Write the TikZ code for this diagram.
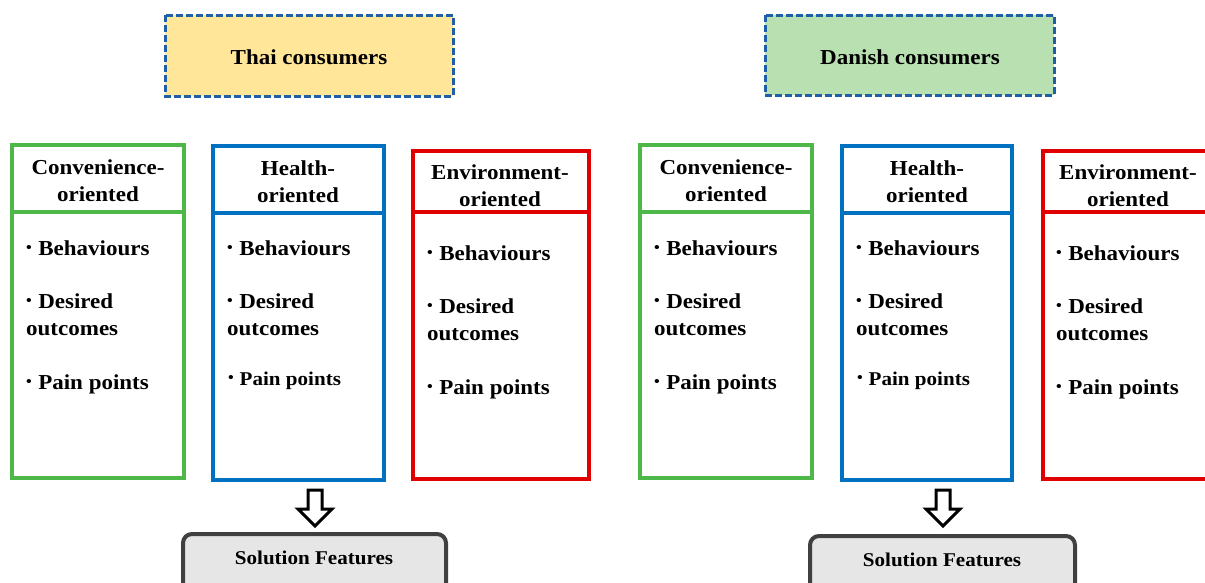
\documentclass[tikz,border=0pt]{standalone}
\usepackage{fontspec}
\setmainfont{Liberation Serif}[FakeStretch=1.08]
\usetikzlibrary{calc}
\definecolor{cgreen}{HTML}{4DB848}
\definecolor{cblue}{HTML}{0070C0}
\definecolor{cred}{HTML}{E00000}
\definecolor{dashblue}{HTML}{1F5FA8}
\definecolor{yfill}{HTML}{FFE699}
\definecolor{gfill}{HTML}{B8E0B0}
\definecolor{sfill}{HTML}{E6E6E6}
\definecolor{sborder}{HTML}{404040}
\newcommand{\bul}{\raisebox{0.12em}{\fontsize{15}{15}\selectfont\textbullet}\hspace{0.3em}}
\tikzset{
  hdr/.style={draw=dashblue, line width=3pt, dash pattern=on 7pt off 3pt},
  frame/.style={line width=3.5pt, fill=white},
  htxt/.style={font=\fontsize{21.3}{27}\selectfont\bfseries, align=center, anchor=center, inner sep=0},
  btxt/.style={font=\fontsize{21.3}{27}\selectfont\bfseries, anchor=base west, inner sep=0},
  stxt/.style={font=\fontsize{19.5}{24}\selectfont\bfseries, anchor=base west, inner sep=0},
  soltxt/.style={font=\fontsize{19.5}{24}\selectfont\bfseries, anchor=center, inner sep=0},
  solbox/.style={draw=sborder, fill=sfill, line width=4pt, rounded corners=9pt},
  blockarrow/.style={draw=black, fill=white, line width=3pt, line join=miter},
}
\begin{document}
\begin{tikzpicture}[x=1pt, y=-1pt]
\useasboundingbox (0,0) rectangle (1205,582);
\clip (0,0) rectangle (1205,582);

% ---------- header boxes ----------
\draw[hdr, fill=yfill] (165,15) rectangle (453,96);
\node[htxt] (thai) at (309,57) {Thai consumers};
\draw[hdr, fill=gfill] (765,15) rectangle (1054,95);
\node[htxt] (danish) at (910,57) {Danish consumers};

% Left group
% Green
\draw[frame, draw=cgreen] (12,212) rectangle (184,478);
\draw[frame, draw=cgreen] (12,145) rectangle (184,212);
\node[htxt] (g1h) at (98,181) {Convenience-\\oriented};
\node[btxt] (g1a) at (26,255) {\bul Behaviours};
\node[btxt] (g1b) at (26,308) {\bul Desired};
\node[btxt] (g1c) at (26,335) {outcomes};
\node[btxt] (g1d) at (26,389) {\bul Pain points};
% Blue
\draw[frame, draw=cblue] (213,213) rectangle (384,480);
\draw[frame, draw=cblue] (213,146) rectangle (384,213);
\node[htxt] (b1h) at (298,182) {Health-\\oriented};
\node[btxt] (b1a) at (227,255) {\bul Behaviours};
\node[btxt] (b1b) at (227,308) {\bul Desired};
\node[btxt] (b1c) at (227,335) {outcomes};
\node[stxt] (b1d) at (228,385) {\bul Pain points};
% Red
\draw[frame, draw=cred] (413,212) rectangle (589,479);
\draw[frame, draw=cred] (413,151) rectangle (589,212);
\node[htxt] (r1h) at (500,186) {Environment-\\oriented};
\node[btxt] (r1a) at (427,260) {\bul Behaviours};
\node[btxt] (r1b) at (427,313) {\bul Desired};
\node[btxt] (r1c) at (427,340) {outcomes};
\node[btxt] (r1d) at (427,394) {\bul Pain points};

% Right group
% Green
\draw[frame, draw=cgreen] (640,212) rectangle (812,478);
\draw[frame, draw=cgreen] (640,145) rectangle (812,212);
\node[htxt] (g2h) at (726,181) {Convenience-\\oriented};
\node[btxt] (g2a) at (654,255) {\bul Behaviours};
\node[btxt] (g2b) at (654,308) {\bul Desired};
\node[btxt] (g2c) at (654,335) {outcomes};
\node[btxt] (g2d) at (654,389) {\bul Pain points};
% Blue
\draw[frame, draw=cblue] (842,213) rectangle (1012,480);
\draw[frame, draw=cblue] (842,146) rectangle (1012,213);
\node[htxt] (b2h) at (927,182) {Health-\\oriented};
\node[btxt] (b2a) at (856,255) {\bul Behaviours};
\node[btxt] (b2b) at (856,308) {\bul Desired};
\node[btxt] (b2c) at (856,335) {outcomes};
\node[stxt] (b2d) at (857,385) {\bul Pain points};
% Red
\draw[frame, draw=cred] (1043,212) rectangle (1230,479);
\draw[frame, draw=cred] (1043,151) rectangle (1230,212);
\node[htxt] (r2h) at (1128,186) {Environment-\\oriented};
\node[btxt] (r2a) at (1056,260) {\bul Behaviours};
\node[btxt] (r2b) at (1056,313) {\bul Desired};
\node[btxt] (r2c) at (1056,340) {outcomes};
\node[btxt] (r2d) at (1056,394) {\bul Pain points};

% ---------- arrows ----------
\coordinate (a1) at (315,509);
\draw[blockarrow] ($(a1)+(-7,-19)$) -- ($(a1)+(7,-19)$) -- ($(a1)+(7,0)$) -- ($(a1)+(17,0)$)
  -- ($(a1)+(0,17)$) -- ($(a1)+(-17,0)$) -- ($(a1)+(-7,0)$) -- cycle;
\coordinate (a2) at (943,509);
\draw[blockarrow] ($(a2)+(-7,-19)$) -- ($(a2)+(7,-19)$) -- ($(a2)+(7,0)$) -- ($(a2)+(17,0)$)
  -- ($(a2)+(0,17)$) -- ($(a2)+(-17,0)$) -- ($(a2)+(-7,0)$) -- cycle;

% ---------- solution boxes ----------
\draw[solbox] (183,534) rectangle (446,600);
\node[soltxt] (sol1) at (314,558) {Solution Features};
\draw[solbox] (810,536) rectangle (1075,600);
\node[soltxt] (sol2) at (942,560) {Solution Features};
\end{tikzpicture}
\end{document}
